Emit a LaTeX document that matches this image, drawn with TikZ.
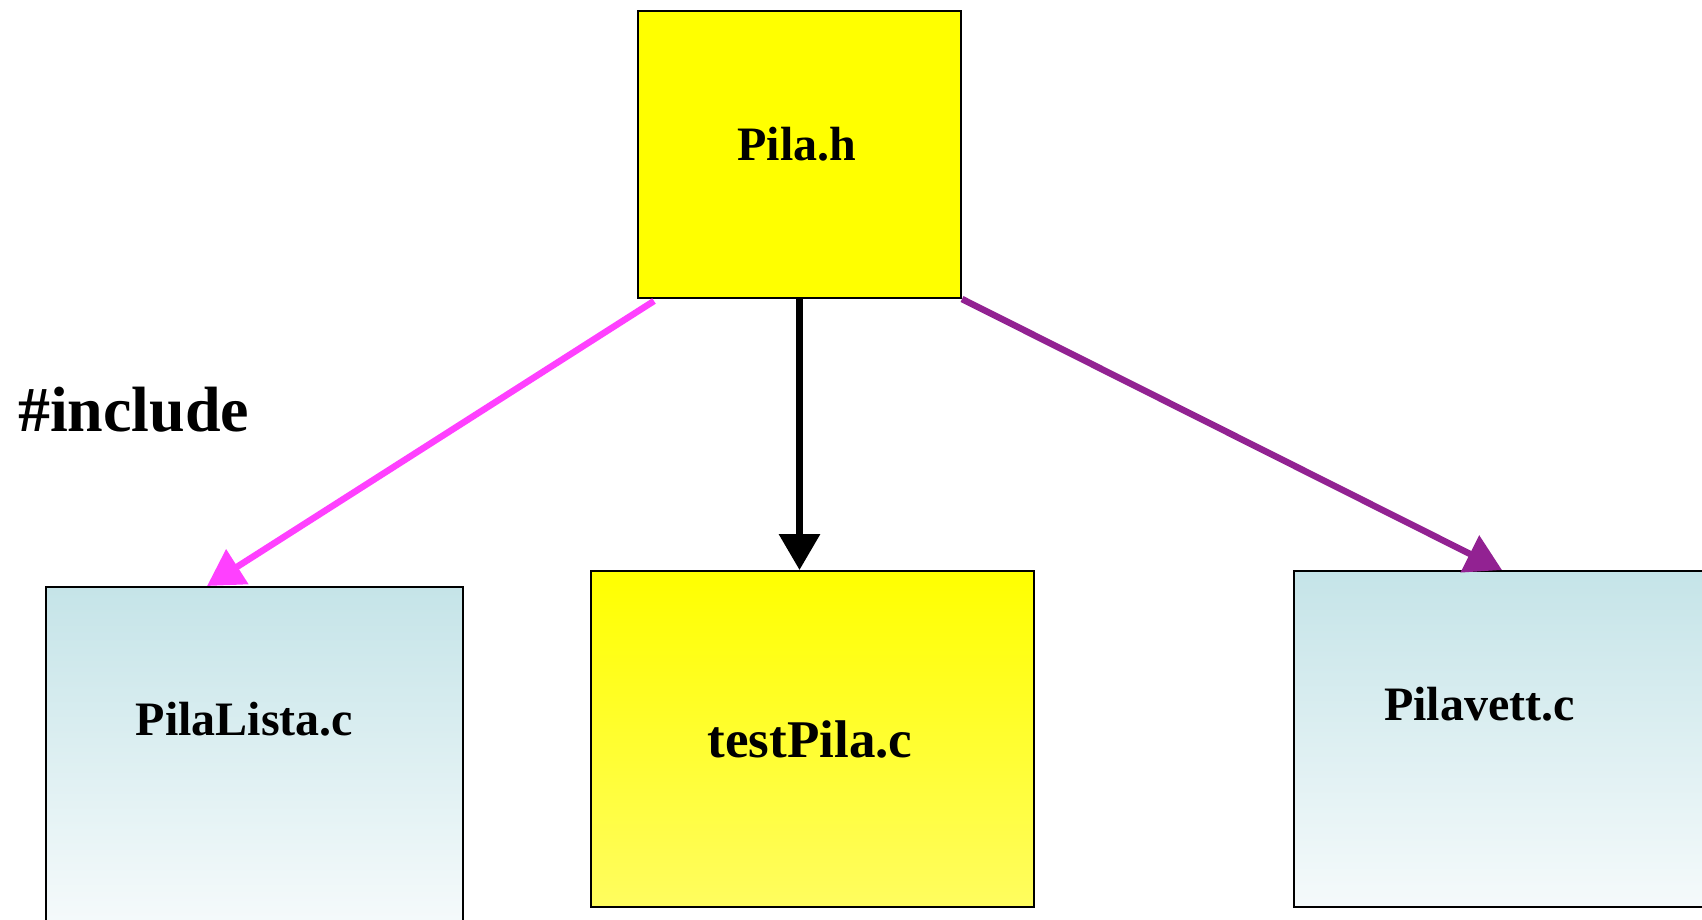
\documentclass[tikz,border=0pt]{standalone}
\usepackage{fontspec}
\setmainfont{Liberation Serif}
\usetikzlibrary{arrows.meta,calc}
\definecolor{pilayellow}{RGB}{255,255,0}
\definecolor{paleyellow}{RGB}{255,253,95}
\definecolor{iceblue}{RGB}{197,228,232}
\definecolor{icewhite}{RGB}{245,250,251}
\definecolor{incmagenta}{RGB}{255,64,255}
\definecolor{incpurple}{RGB}{146,34,146}

\begin{document}
\begin{tikzpicture}[x=1pt,y=-1pt]
		\tikzstyle{file}=[rectangle, draw=black, line width=2pt, inner sep=0pt, minimum height=336pt]
		\tikzstyle{cfile}=[file, top color=iceblue, bottom color=icewhite]
		\tikzstyle{fname}=[inner sep=0pt, anchor=base, font=\fontsize{48}{56}\selectfont\bfseries]
		\tikzstyle{inc}=[line width=6.5pt, -{Triangle[length=36pt,width=40pt]}]
		\clip (0,0) rectangle (1702,919);
		% files
		\node[file, fill=pilayellow, minimum width=323pt, minimum height=287pt] (pilah) at (799.5,154.5) {};
		\node[cfile, minimum width=417pt] (lista) at (254.5,755) {};
		\node[file, top color=pilayellow, bottom color=paleyellow, minimum width=443pt] (test) at (812.5,739) {};
		\node[cfile, minimum width=426pt] (vett) at (1507,739) {};
		% names
		\node[fname] (pilahname) at (797,160) {Pila.h};
		\node[fname] (listaname) at (244.5,735) {PilaLista.c};
		\node[fname, font=\fontsize{53}{60}\selectfont\bfseries] (testname) at (810,757) {testPila.c};
		\node[fname] (vettname) at (1479.5,720) {Pilavett.c};
		\node[fname, anchor=base west, font=\fontsize{64}{72}\selectfont\bfseries] (incname) at (18,431) {\#include};
		% includes
		\draw[inc, incmagenta] ($(pilah.south west)+(17,2)$) -- ($(lista.north west)+(162,0)$);
		\draw[inc, black] (pilah.south) -- (pilah.south |- test.north);
		\draw[inc, incpurple] (pilah.south east) -- ($(vett.north west)+(209,0)$);
	\end{tikzpicture}
\end{document}
